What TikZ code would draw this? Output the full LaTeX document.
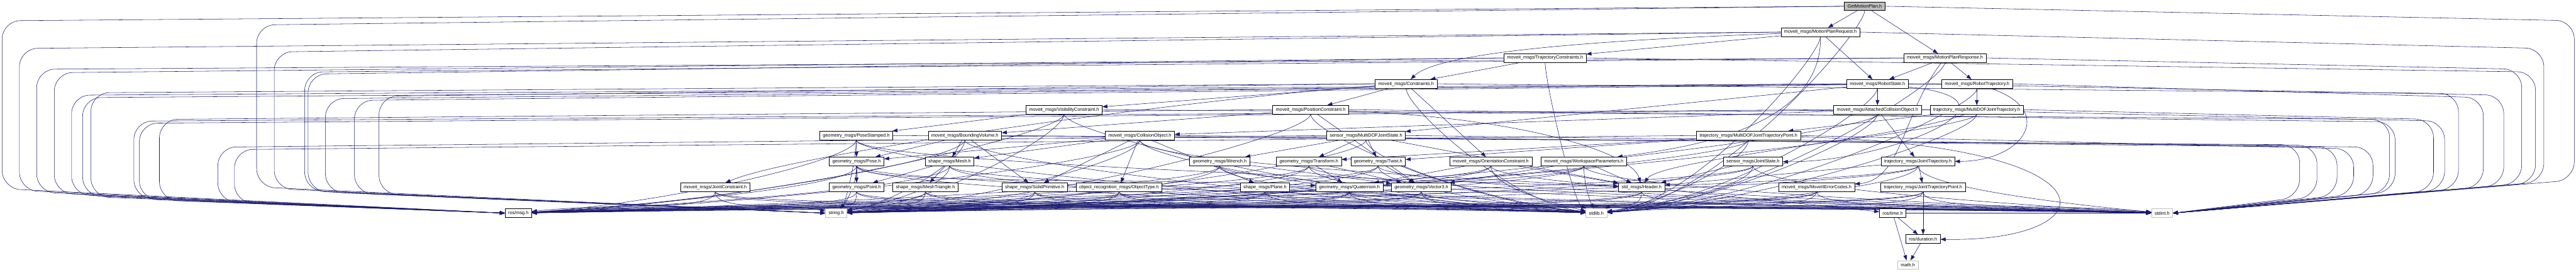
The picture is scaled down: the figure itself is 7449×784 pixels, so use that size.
\documentclass[tikz,border=0pt]{standalone}
\usepackage{fontspec}
\setmainfont{Liberation Sans}
\usetikzlibrary{arrows.meta,calc}
\definecolor{mb}{HTML}{191970}
\definecolor{g75}{HTML}{BFBFBF}
\pgfdeclarelayer{bg}
\pgfsetlayers{bg,main}
\tikzset{
 nd/.style={draw=black,fill=white,line width=0.75pt,inner xsep=6.75pt,inner ysep=1pt,minimum height=18.75pt,font=\fontsize{10pt}{12pt}\selectfont},
 gnd/.style={nd,draw=g75},
 rootnd/.style={nd,fill=g75},
 edg/.style={draw=mb,line width=0.75pt,-{Triangle[length=11pt,width=8pt]}}
}
\newcommand\edgeD[2]{\draw[edg] (#1) .. controls ($(#1)+(0,70)$) and ($(#2)!0.45!(#2-|#1)+(0,-30)$) .. (#2);}
\newcommand\edgeL[5]{\draw[edg,rounded corners=40pt] (#1.west) -- (#3,#4) -- (#3,#5) -- (#2.west);}
\newcommand\edgeR[5]{\draw[edg,rounded corners=40pt] (#1.east) -- (#3,#4) -- (#3,#5) -- (#2.east);}
\def\lowrows{Pose,Mesh,Wrench,Transf,Twist,OriC,WSP,JState,JTraj,JointC,Point,MeshTri,SolidP,ObjT,Plane,Quat,Vec3,Header,MIEC,JTP}
\begin{document}
\begin{tikzpicture}[x=0.75pt,y=-0.75pt]
\useasboundingbox (0,0) rectangle (7449,784);
% nodes
\node[rootnd] (GMP) at (5392,18) {GetMotionPlan.h};
\node[nd] (MPReq) at (5264,92.7) {moveit\_msgs/MotionPlanRequest.h};
\node[nd] (TrajC) at (4468,167.4) {moveit\_msgs/TrajectoryConstraints.h};
\node[nd] (MPResp) at (5624,167.4) {moveit\_msgs/MotionPlanResponse.h};
\node[nd] (Constr) at (4066,242.1) {moveit\_msgs/Constraints.h};
\node[nd] (RState) at (5429,242.1) {moveit\_msgs/RobotState.h};
\node[nd] (RTraj) at (5717,242.1) {moveit\_msgs/RobotTrajectory.h};
\node[nd] (VisC) at (3077,316.8) {moveit\_msgs/VisibilityConstraint.h};
\node[nd] (PosC) at (3790,316.8) {moveit\_msgs/PositionConstraint.h};
\node[nd] (ACO) at (5429,316.8) {moveit\_msgs/AttachedCollisionObject.h};
\node[nd] (MDJT) at (5716,316.8) {trajectory\_msgs/MultiDOFJointTrajectory.h};
\node[nd] (PoseSt) at (2476,391.5) {geometry\_msgs/PoseStamped.h};
\node[nd] (BVol) at (2790,391.5) {moveit\_msgs/BoundingVolume.h};
\node[nd] (CObj) at (3296,391.5) {moveit\_msgs/CollisionObject.h};
\node[nd] (MDJS) at (3950,391.5) {sensor\_msgs/MultiDOFJointState.h};
\node[nd] (MDJTP) at (5056,391.5) {trajectory\_msgs/MultiDOFJointTrajectoryPoint.h};
\node[nd] (Pose) at (2477,466.2) {geometry\_msgs/Pose.h};
\node[nd] (Mesh) at (2746,466.2) {shape\_msgs/Mesh.h};
\node[nd] (Wrench) at (3527,466.2) {geometry\_msgs/Wrench.h};
\node[nd] (Transf) at (3785,466.2) {geometry\_msgs/Transform.h};
\node[nd] (Twist) at (3985,466.2) {geometry\_msgs/Twist.h};
\node[nd] (OriC) at (4311,466.2) {moveit\_msgs/OrientationConstraint.h};
\node[nd] (WSP) at (4580,466.2) {moveit\_msgs/WorkspaceParameters.h};
\node[nd] (JState) at (5069,466.2) {sensor\_msgs/JointState.h};
\node[nd] (JTraj) at (5546,466.2) {trajectory\_msgs/JointTrajectory.h};
\node[nd] (JointC) at (2068,540.9) {moveit\_msgs/JointConstraint.h};
\node[nd] (Point) at (2477,540.9) {geometry\_msgs/Point.h};
\node[nd] (MeshTri) at (2676,540.9) {shape\_msgs/MeshTriangle.h};
\node[nd] (SolidP) at (2992,540.9) {shape\_msgs/SolidPrimitive.h};
\node[nd] (ObjT) at (3236,540.9) {object\_recognition\_msgs/ObjectType.h};
\node[nd] (Plane) at (3658,540.9) {shape\_msgs/Plane.h};
\node[nd] (Quat) at (3902,540.9) {geometry\_msgs/Quaternion.h};
\node[nd] (Vec3) at (4110,540.9) {geometry\_msgs/Vector3.h};
\node[nd] (Header) at (4747,540.9) {std\_msgs/Header.h};
\node[nd] (MIEC) at (5253,540.9) {moveit\_msgs/MoveItErrorCodes.h};
\node[nd] (JTP) at (5561,540.9) {trajectory\_msgs/JointTrajectoryPoint.h};
\node[nd] (msg) at (1499,615.6) {ros/msg.h};
\node[gnd] (str) at (2418,615.6) {string.h};
\node[gnd] (stdlib) at (4616,615.6) {stdlib.h};
\node[nd] (time) at (5473,615.6) {ros/time.h};
\node[gnd] (stdint) at (6252,615.6) {stdint.h};
\node[nd] (dur) at (5561,690.3) {ros/duration.h};
\node[gnd] (math) at (5517,765) {math.h};

\begin{pgfonlayer}{bg}
\fill[white] (0,0) rectangle (7449,784);
% left loops to ros/msg.h
\edgeL{GMP}{msg}{6}{60}{545}
\edgeL{MPReq}{msg}{56}{140}{550}
\edgeL{MPResp}{msg}{106}{200}{555}
\edgeL{TrajC}{msg}{157}{210}{558}
\edgeL{RState}{msg}{207}{275}{562}
\edgeL{RTraj}{msg}{239}{282}{565}
\edgeL{Constr}{msg}{263}{268}{568}
\edgeL{ACO}{msg}{387}{350}{572}
\edgeL{MDJT}{msg}{403}{356}{575}
\edgeL{PosC}{msg}{461}{345}{578}
\edgeL{MDJS}{msg}{630}{425}{582}
\edgeL{MDJTP}{msg}{678}{432}{585}
% left loops to string.h
\edgeL{GMP}{str}{742}{72}{540}
\edgeL{MPReq}{str}{793}{150}{545}
\edgeL{MPResp}{str}{881}{208}{550}
\edgeL{TrajC}{str}{891}{214}{552}
\edgeL{RState}{str}{941}{285}{555}
\edgeL{RTraj}{str}{1025}{290}{558}
\edgeL{Constr}{str}{1096}{278}{560}
% right loops to stdint.h
\edgeR{GMP}{stdint}{7444}{60}{520}
\edgeR{MPReq}{stdint}{7356}{140}{525}
\edgeR{MPResp}{stdint}{7292}{200}{530}
\edgeR{TrajC}{stdint}{7332}{208}{528}
\edgeR{RState}{stdint}{7240}{275}{535}
\edgeR{RTraj}{stdint}{7181}{282}{540}
\edgeR{Constr}{stdint}{7109}{270}{545}
\edgeR{ACO}{stdint}{7069}{350}{548}
\edgeR{MDJT}{stdint}{7037}{345}{550}
\edgeR{PosC}{stdint}{6926}{352}{553}
\edgeR{VisC}{stdint}{6910}{345}{555}
\edgeR{MDJS}{stdint}{6862}{425}{560}
\edgeR{MDJTP}{stdint}{6806}{430}{562}
\edgeR{CObj}{stdint}{6758}{425}{565}
\edgeR{BVol}{stdint}{6700}{420}{568}
\edgeR{PoseSt}{stdint}{6650}{418}{570}
% direct edges to the sinks
\foreach \s in {VisC,PoseSt,BVol,CObj} {\edgeD{\s}{msg}}
\foreach \s in \lowrows {\edgeD{\s}{msg}}
\foreach \s in {VisC,PoseSt,BVol,CObj,PosC,ACO,MDJT,MDJS,MDJTP} {\edgeD{\s}{str}}
\foreach \s in \lowrows {\edgeD{\s}{str}}
\foreach \s in {GMP,MPReq,TrajC,MPResp,Constr,RState,RTraj,VisC,PosC,ACO,MDJT,PoseSt,BVol,CObj,MDJS,MDJTP} {\edgeD{\s}{stdlib}}
\foreach \s in \lowrows {\edgeD{\s}{stdlib}}
\foreach \s in \lowrows {\edgeD{\s}{stdint}}
% dependencies
\draw[edg] (GMP) -- (MPReq);
\draw[edg] (GMP) -- (MPResp);
\draw[edg] (MPReq) .. controls (5270,380) and (4850,430) .. (WSP);
\draw[edg] (MPReq) -- (RState);
\draw[edg] (MPReq) .. controls (4500,120) and (4150,160) .. (Constr);
\draw[edg] (MPReq) -- (TrajC);
\draw[edg] (MPResp) -- (RState);
\draw[edg] (MPResp) -- (RTraj);
\draw[edg] (MPResp) .. controls (5500,330) and (5500,520) .. (MIEC);
\draw[edg] (TrajC) -- (Constr);
\draw[edg] (Constr) .. controls (3500,280) and (2300,440) .. (JointC);
\draw[edg] (Constr) -- (PosC);
\draw[edg] (Constr) -- (OriC);
\draw[edg] (Constr) -- (VisC);
\draw[edg] (RState) .. controls (5900,290) and (5450,470) .. (JState);
\draw[edg] (RState) -- (MDJS);
\draw[edg] (RState) -- (ACO);
\draw[edg] (RTraj) .. controls (5950,320) and (5850,466) .. (JTraj);
\draw[edg] (RTraj) -- (MDJT);
\draw[edg] (VisC) -- (PoseSt);
\draw[edg] (PosC) .. controls (4400,340) and (4720,440) .. (Header);
\draw[edg] (PosC) -- (Vec3);
\draw[edg] (PosC) -- (BVol);
\draw[edg] (ACO) -- (CObj);
\draw[edg] (ACO) -- (JTraj);
\draw[edg] (MDJT) .. controls (5500,400) and (4800,460) .. (Header);
\draw[edg] (MDJT) -- (MDJTP);
\edgeD{PoseSt}{Header}
\draw[edg] (PoseSt) -- (Pose);
\draw[edg] (BVol) -- (SolidP);
\draw[edg] (BVol) -- (Pose);
\draw[edg] (BVol) -- (Mesh);
\edgeD{CObj}{Header}
\draw[edg] (CObj) -- (ObjT);
\draw[edg] (CObj) -- (SolidP);
\draw[edg] (CObj) -- (Plane);
\draw[edg] (CObj) -- (Mesh);
\draw[edg] (CObj) -- (Pose);
\draw[edg] (MDJS) -- (Header);
\draw[edg] (MDJS) -- (Transf);
\draw[edg] (MDJS) -- (Twist);
\draw[edg] (MDJS) -- (Wrench);
\draw[edg] (MDJTP) -- (Transf);
\draw[edg] (MDJTP) -- (Twist);
\draw[edg] (MDJTP) .. controls (6150,420) and (6100,700) .. (dur);
\draw[edg] (Pose) -- (Point);
\edgeD{Pose}{Quat}
\draw[edg] (Mesh) -- (MeshTri);
\draw[edg] (Mesh) -- (Point);
\draw[edg] (Wrench) -- (Vec3);
\draw[edg] (Transf) -- (Vec3);
\draw[edg] (Transf) -- (Quat);
\draw[edg] (Twist) -- (Vec3);
\draw[edg] (OriC) -- (Header);
\draw[edg] (OriC) -- (Quat);
\draw[edg] (WSP) -- (Header);
\draw[edg] (WSP) -- (Vec3);
\draw[edg] (JState) -- (Header);
\draw[edg] (JTraj) -- (Header);
\draw[edg] (JTraj) -- (JTP);
\draw[edg] (Header) -- (time);
\draw[edg] (JTP) -- (dur);
\draw[edg] (time) -- (dur);
\draw[edg] (time) -- (math);
\draw[edg] (time) -- (stdint);
\draw[edg] (dur) -- (math);
\end{pgfonlayer}
\end{tikzpicture}
\end{document}
